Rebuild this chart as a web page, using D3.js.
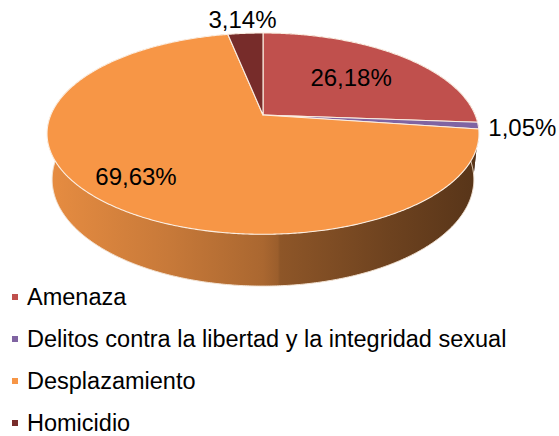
<!DOCTYPE html>
<html>
  <head>
    <meta charset='UTF-8'/>
    <script src="https://cdn.jsdelivr.net/npm/d3@7"></script>
    <style>
      body { margin : 0; background : white; }
      text { font-family : "Liberation Sans", Arial, sans-serif; fill : black; }
      .label { font-size : 24px; }
      .legend text { font-size : 23.5px; }
    </style>
  </head>
  <body>
    <svg id='fig' width='559' height='436'></svg>
    <script>
      // data
      const categories = ["Amenaza", "Delitos contra la libertad y la integridad sexual", "Desplazamiento", "Homicidio"]
      const values = [26.18, 1.05, 69.63, 3.14]
      const labels = ["26,18%", "1,05%", "69,63%", "3,14%"]
      const colors = ["#C0504D", "#8064A2", "#F79646", "#772C2A"]

      // layout
      const labelRadius = [0.61, 1.2, 0.78, 1.2]
      const cx = 263, cy = 115          // apex of the pie on screen
      const K = 1018.6, D = 4.8          // perspective
      const sa = 0.458, ca = 0.889       // sin / cos of the tilt
      const h = 0.245                    // thickness
      const legendX = 12, legendY = 297, legendStep = 42

      const svg = d3.select("#fig")

      // theta clockwise from 12 o'clock, r in pie radii, y up (0 = top face)
      function proj(theta, r, y) {
	  const x = r*Math.sin(theta), z = -r*Math.cos(theta)
	  const u = y*ca - z*sa
	  const w = D - z*ca - y*sa
	  return [cx + K*x/w, cy - K*u/w]
      }

      function arcPoints(a0, a1, y) {
	  const n = Math.max(2, Math.ceil((a1 - a0)/(Math.PI/360)))
	  return d3.range(n + 1).map(i => proj(a0 + (a1 - a0)*i/n, 1, y))
      }

      const arcs = d3.pie().sort(null).value(d => d)(values)
      const line = d3.line()

      // side gradients, lighter on the left
      const defs = svg.append("defs")
      const stops = [[0, 0.2], [0.28, 0.6], [0.5, 1.05], [0.535, 1.3], [0.54, 1.55], [0.8, 2.3], [1, 2.9]]
      colors.forEach((c, i) => {
	  const g = defs.append("linearGradient")
		.attr("id", "side" + i)
		.attr("gradientUnits", "userSpaceOnUse")
		.attr("x1", proj(-Math.PI/2, 1, 0)[0]).attr("x2", proj(Math.PI/2, 1, 0)[0])
		.attr("y1", 0).attr("y2", 0)
	  stops.forEach(s => g.append("stop")
			.attr("offset", s[0])
			.attr("stop-color", d3.color(c).darker(s[1]).formatHex()))
      })

      // outer walls, far ones first (cos of mid angle large = far side)
      const walls = arcs.map((a, i) => ({a, i}))
      walls.sort((p, q) => Math.cos((q.a.startAngle + q.a.endAngle)/2) - Math.cos((p.a.startAngle + p.a.endAngle)/2))

      svg.append("g").selectAll("path")
	  .data(walls)
	  .join("path")
	  .attr("d", d => {
	      const top = arcPoints(d.a.startAngle, d.a.endAngle, 0)
	      const bot = arcPoints(d.a.startAngle, d.a.endAngle, -h).reverse()
	      return line(top.concat(bot)) + "Z"
	  })
	  .attr("fill", d => `url(#side${d.i})`)

      // light rim on the bottom edge
      svg.append("path")
	  .attr("d", line(arcPoints(Math.PI/2, 3*Math.PI/2, -h)))
	  .attr("fill", "none")
	  .attr("stroke", "#f3e3d3")
	  .attr("stroke-width", 1)

      // top faces
      svg.append("g").selectAll("path")
	  .data(arcs)
	  .join("path")
	  .attr("d", d => line([proj(0, 0, 0)].concat(arcPoints(d.startAngle, d.endAngle, 0))) + "Z")
	  .attr("fill", (d, i) => colors[i])
	  .attr("stroke", "#fbeee2")
	  .attr("stroke-width", 1.1)
	  .attr("stroke-linejoin", "round")

      // value labels
      svg.append("g").selectAll("text")
	  .data(arcs)
	  .join("text")
	  .attr("class", "label")
	  .attr("text-anchor", "middle")
	  .attr("dy", "0.35em")
	  .attr("x", (d, i) => proj((d.startAngle + d.endAngle)/2, labelRadius[i], 0)[0])
	  .attr("y", (d, i) => proj((d.startAngle + d.endAngle)/2, labelRadius[i], 0)[1])
	  .text((d, i) => labels[i])

      // legend
      const leg = svg.append("g").attr("class", "legend")
	    .selectAll("g")
	    .data(categories)
	    .join("g")
	    .attr("transform", (d, i) => `translate(${legendX},${legendY + i*legendStep})`)
      leg.append("rect")
	  .attr("x", 0).attr("y", -3)
	  .attr("width", 6).attr("height", 6)
	  .attr("fill", (d, i) => colors[i])
      leg.append("text")
	  .attr("x", 15)
	  .attr("dy", "0.35em")
	  .text(d => d)
    </script>
  </body>
</html>
